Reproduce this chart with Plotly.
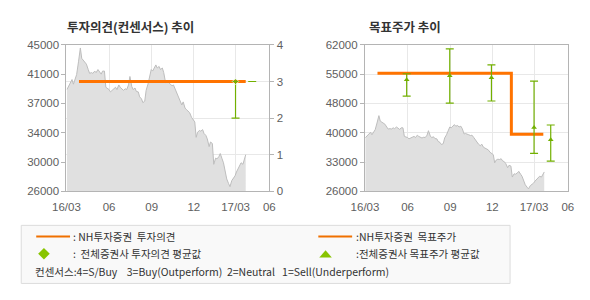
import plotly.graph_objects as go

# ---------------- data ----------------
dates = ["2016-03-02","2016-03-06","2016-03-09","2016-03-13","2016-03-16","2016-03-20","2016-03-23",
         "2016-03-27","2016-03-29","2016-03-31","2016-04-03","2016-04-06","2016-04-10","2016-04-13",
         "2016-04-17","2016-04-20","2016-04-24","2016-04-27","2016-05-01","2016-05-04","2016-05-08",
         "2016-05-11","2016-05-15","2016-05-18","2016-05-22","2016-05-25","2016-05-28","2016-06-01",
         "2016-06-04","2016-06-08","2016-06-11","2016-06-15","2016-06-18","2016-06-22","2016-06-25",
         "2016-06-29","2016-07-02","2016-07-06","2016-07-09","2016-07-13","2016-07-16","2016-07-20",
         "2016-07-23","2016-07-27","2016-07-30","2016-08-03","2016-08-06","2016-08-10","2016-08-13",
         "2016-08-17","2016-08-20","2016-08-24","2016-08-27","2016-08-31","2016-09-03","2016-09-06",
         "2016-09-10","2016-09-13","2016-09-17","2016-09-20","2016-09-24","2016-09-27","2016-10-01",
         "2016-10-04","2016-10-08","2016-10-11","2016-10-15","2016-10-18","2016-10-22","2016-10-25",
         "2016-10-29","2016-11-01","2016-11-05","2016-11-08","2016-11-12","2016-11-15","2016-11-19",
         "2016-11-22","2016-11-26","2016-11-29","2016-12-03","2016-12-06","2016-12-09","2016-12-13",
         "2016-12-16","2016-12-20","2016-12-23","2016-12-27","2016-12-30","2017-01-03","2017-01-06",
         "2017-01-10","2017-01-13","2017-01-17","2017-01-20","2017-01-24","2017-01-27","2017-01-31",
         "2017-02-03","2017-02-07","2017-02-10","2017-02-14","2017-02-17","2017-02-21","2017-02-24",
         "2017-02-28","2017-03-03","2017-03-06","2017-03-10","2017-03-13","2017-03-17","2017-03-20",
         "2017-03-23"]
price = [39200,39700,40200,40500,39900,40750,41150,
         42800,43450,44600,43250,43050,42700,42500,
         41800,41300,41400,41300,41600,41400,41800,
         41600,41200,41600,41600,39500,39400,39200,
         38900,39100,39200,39500,39200,39800,39500,
         39200,39100,39300,39200,39800,40900,39600,
         39200,39400,38950,38900,38250,38000,37500,
         37700,39100,39900,40600,41800,41600,42000,
         42400,42000,42200,41800,42000,41400,40100,
         40200,40100,39900,39700,39800,39200,38650,
         38000,37600,37200,37600,36800,36600,36400,
         36200,35600,35300,35000,33000,33650,33900,
         33800,34000,33500,33250,32800,31800,32400,
         32200,29500,30300,30200,30500,30900,30200,
         29700,28500,27600,27000,26600,27400,27600,
         28000,28500,28900,29300,29700,29500,30100,
         30750]

# NH investment opinion (consensus scale 1-4)
op_x = ["2016-03-28", "2017-03-23"]
op_y = [3, 3]
cons_x = ["2017-03-01", "2017-04-06"]
cons_mean = [3, 3]
cons_max = [3, 3]
cons_min = [2, 3]

# NH target price
tp_x = ["2016-03-28", "2017-01-11", "2017-03-21"]
tp_y = [55000, 40000, 40000]
avg_x = ["2016-05-30", "2016-08-31", "2016-11-29", "2017-03-01", "2017-04-06"]
avg_mean = [53400, 54400, 53900, 41700, 38700]
avg_max = [54900, 61000, 57100, 53100, 42300]
avg_min = [49400, 47700, 48200, 35300, 33400]

# axis ticks
x_tickvals = ["2016-03-01", "2016-06-01", "2016-09-01", "2016-12-01", "2017-03-01", "2017-05-13"]
x_ticktext = ["16/03", "06", "09", "12", "17/03", "06"]
x_range = ["2016-03-01", "2017-05-13"]
y1_tickvals = [26000, 29800, 33600, 37400, 41200, 45000]
y1_ticktext = ["26000", "30000", "34000", "37000", "41000", "45000"]
y2_tickvals = [0, 1, 2, 3, 4]
y3_tickvals = [26000, 33200, 40400, 47600, 54800, 62000]
y3_ticktext = ["26000", "33000", "40000", "48000", "55000", "62000"]

# ---------------- style ----------------
W, H = 590, 300
ORANGE = "#ff7300"
GREEN = "#72b000"
LGREEN = "#88c400"
AREA = "#e0e0e0"
AREALINE = "#bdbdbd"
GRID = "#e8e8e8"
AXLINE = "#b4b4b4"
TXT = "#606060"
NUMFONT = "Liberation Sans, Arial, sans-serif"
KFONT = "Noto Sans CJK KR, sans-serif"


def px(x):
    return x / W


def py(y):
    return 1 - y / H


fig = go.Figure()

# left chart: price area
fig.add_trace(go.Scatter(x=dates, y=price, mode="lines", fill="tozeroy",
                         line=dict(color=AREALINE, width=1), fillcolor=AREA,
                         xaxis="x", yaxis="y", hoverinfo="skip", showlegend=False))
# left chart: NH opinion
fig.add_trace(go.Scatter(x=op_x, y=op_y, mode="lines", line=dict(color=ORANGE, width=3),
                         xaxis="x", yaxis="y2", showlegend=False))
# left chart: consensus error bars
fig.add_trace(go.Scatter(
    x=cons_x, y=cons_mean, mode="markers",
    marker=dict(symbol="diamond", size=[5, 0], color=GREEN),
    error_y=dict(type="data", symmetric=False,
                 array=[a - m for a, m in zip(cons_max, cons_mean)],
                 arrayminus=[m - b for m, b in zip(cons_mean, cons_min)],
                 color=GREEN, thickness=1.2, width=4),
    xaxis="x", yaxis="y2", showlegend=False))

# right chart: price area
fig.add_trace(go.Scatter(x=dates, y=price, mode="lines", fill="tozeroy",
                         line=dict(color=AREALINE, width=1), fillcolor=AREA,
                         xaxis="x2", yaxis="y3", hoverinfo="skip", showlegend=False))
# right chart: NH target
fig.add_trace(go.Scatter(x=tp_x, y=tp_y, mode="lines", line=dict(color=ORANGE, width=3, shape="hv"),
                         xaxis="x2", yaxis="y3", showlegend=False))
# right chart: consensus target error bars
fig.add_trace(go.Scatter(
    x=avg_x, y=avg_mean, mode="markers",
    marker=dict(symbol="triangle-up", size=5, color=GREEN),
    error_y=dict(type="data", symmetric=False,
                 array=[a - m for a, m in zip(avg_max, avg_mean)],
                 arrayminus=[m - b for m, b in zip(avg_mean, avg_min)],
                 color=GREEN, thickness=1.2, width=4),
    xaxis="x2", yaxis="y3", showlegend=False))

ydom = [py(193), py(40.5)]
axis_common = dict(showline=True, linecolor=AXLINE, linewidth=1, mirror=True,
                   tickfont=dict(family=NUMFONT, size=11.5, color=TXT), zeroline=False)
xtick_common = dict(ticks="outside", ticklen=5, tickcolor="rgba(0,0,0,0)")

fig.update_layout(
    width=W, height=H, autosize=False,
    margin=dict(l=0, r=0, t=0, b=0),
    paper_bgcolor="white", plot_bgcolor="white",
    xaxis=dict(domain=[px(54.3), px(264.3)], type="date", range=x_range,
               tickmode="array", tickvals=x_tickvals, ticktext=x_ticktext,
               showgrid=True, gridcolor=GRID, anchor="y", **xtick_common, **axis_common),
    yaxis=dict(domain=ydom, range=[26000, 45000], tickmode="array",
               tickvals=y1_tickvals, ticktext=y1_ticktext, showgrid=False,
               ticks="outside", ticklen=4, tickcolor=AXLINE, anchor="x", **axis_common),
    yaxis2=dict(overlaying="y", side="right", anchor="x", range=[0, 4], tickmode="array",
                tickvals=y2_tickvals, showgrid=True, gridcolor=GRID,
                ticks="outside", ticklen=4, tickcolor=AXLINE,
                tickfont=dict(family=NUMFONT, size=11.5, color=TXT), zeroline=False,
                showline=False),
    xaxis2=dict(domain=[px(363.3), px(573.3)], type="date", range=x_range,
                tickmode="array", tickvals=x_tickvals, ticktext=x_ticktext,
                showgrid=True, gridcolor=GRID, anchor="y3", **xtick_common, **axis_common),
    yaxis3=dict(domain=ydom, range=[26000, 62000], tickmode="array",
                tickvals=y3_tickvals, ticktext=y3_ticktext, showgrid=True, gridcolor=GRID,
                ticks="outside", ticklen=4, tickcolor=AXLINE, anchor="x2", **axis_common),
)

# titles
fig.add_annotation(x=px(53), y=py(21), xref="paper", yref="paper", xanchor="left", yanchor="middle",
                   text="<b>투자의견(컨센서스) 추이</b>", showarrow=False,
                   font=dict(family=KFONT, size=12.5, color="#333333"))
fig.add_annotation(x=px(365), y=py(21), xref="paper", yref="paper", xanchor="left", yanchor="middle",
                   text="<b>목표주가 추이</b>", showarrow=False,
                   font=dict(family=KFONT, size=12.5, color="#333333"))

# legend box
shapes = [
    dict(type="rect", xref="paper", yref="paper", x0=px(7.5), x1=px(513.5), y0=py(289), y1=py(228.5),
         line=dict(color="#dcdcdc", width=1), fillcolor="#f9f9f9", layer="below"),
    dict(type="line", xref="paper", yref="paper", x0=px(23), x1=px(58), y0=py(240), y1=py(240),
         line=dict(color="#f07000", width=2)),
    dict(type="line", xref="paper", yref="paper", x0=px(315), x1=px(350), y0=py(240), y1=py(240),
         line=dict(color="#f07000", width=2)),
    dict(type="path", xref="paper", yref="paper",
         path=f"M {px(25)},{py(258)} L {px(31)},{py(252)} L {px(37)},{py(258)} L {px(31)},{py(264)} Z",
         fillcolor=LGREEN, line=dict(color=LGREEN, width=0)),
    dict(type="path", xref="paper", yref="paper",
         path=f"M {px(316)},{py(262)} L {px(329)},{py(262)} L {px(322.5)},{py(254.5)} Z",
         fillcolor=LGREEN, line=dict(color=LGREEN, width=0)),
]
fig.update_layout(shapes=shapes)

leg_font = dict(family=KFONT, size=10.5, color="#333333")
legend_texts = [
    (59, 240, ": NH투자증권  투자의견"),
    (59, 258, ":  전체증권사 투자의견 평균값"),
    (352, 240, ":NH투자증권  목표주가"),
    (352, 258, ":전체증권사 목표주가 평균값"),
    (20, 277, "컨센서스:4=S/Buy    3=Buy(Outperform)  2=Neutral   1=Sell(Underperform)"),
]
for x, y, t in legend_texts:
    fig.add_annotation(x=px(x), y=py(y), xref="paper", yref="paper", xanchor="left", yanchor="middle",
                       text=t, showarrow=False, font=leg_font)

fig.write_html("out.html")
